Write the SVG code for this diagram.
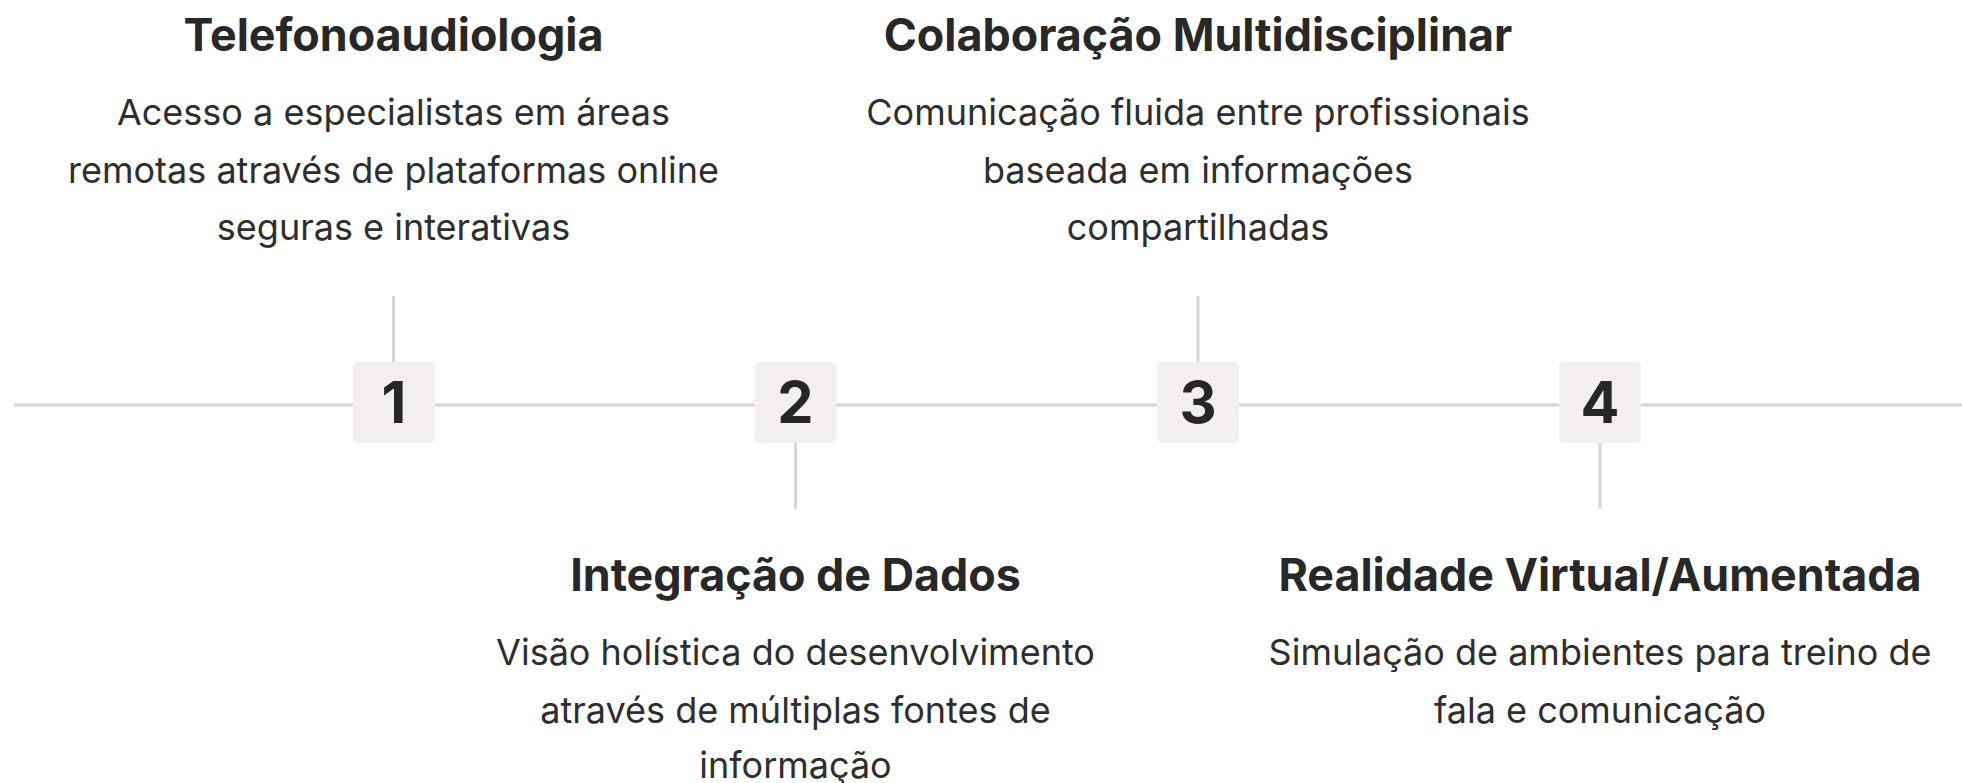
<svg xmlns="http://www.w3.org/2000/svg" width="1962" height="783" viewBox="0 0 1962 783">
<style>
.title{font-family:Inter,"Liberation Sans",sans-serif;font-weight:700;font-size:44.8px;fill:#282828;text-anchor:middle}
.desc{font-family:Inter,"Liberation Sans",sans-serif;font-weight:400;font-size:36px;fill:#2e2e2e;text-anchor:middle}
.num{font-family:Inter,"Liberation Sans",sans-serif;font-weight:700;font-size:57.6px;fill:#262626;text-anchor:middle}
.box{fill:#f2efee}
.ln{stroke:#d8d5d3;stroke-width:3.5;fill:none}
.tick{stroke:#d8d5d3;stroke-width:3;fill:none}
</style>
<rect width="1962" height="783" fill="#ffffff"/>
<g id="connectors">
<line class="ln" x1="14" y1="405" x2="1962" y2="405"/>
<line class="tick" x1="393.5" y1="296" x2="393.5" y2="362"/>
<line class="tick" x1="795.5" y1="443" x2="795.5" y2="509"/>
<line class="tick" x1="1198" y1="296" x2="1198" y2="362"/>
<line class="tick" x1="1600" y1="443" x2="1600" y2="509"/>
</g>
<g id="node1">
<rect class="box" x="353" y="362" width="82" height="81" rx="5"/>
<text class="num" x="394" y="423">1</text>
<text class="title" x="393.5" y="51">Telefonoaudiologia</text>
<text class="desc" x="393.5" y="125">Acesso a especialistas em áreas</text>
<text class="desc" x="393.5" y="182.5">remotas através de plataformas online</text>
<text class="desc" x="393.5" y="240">seguras e interativas</text>
</g>
<g id="node2">
<rect class="box" x="754.5" y="362" width="82" height="81" rx="5"/>
<text class="num" x="795.5" y="423">2</text>
<text class="title" x="795.5" y="591">Integração de Dados</text>
<text class="desc" x="795.5" y="665">Visão holística do desenvolvimento</text>
<text class="desc" x="795.5" y="722.5">através de múltiplas fontes de</text>
<text class="desc" x="795.5" y="778">informação</text>
</g>
<g id="node3">
<rect class="box" x="1157" y="362" width="82" height="81" rx="5"/>
<text class="num" x="1198" y="423">3</text>
<text class="title" x="1198" y="51">Colaboração Multidisciplinar</text>
<text class="desc" x="1198" y="125">Comunicação fluida entre profissionais</text>
<text class="desc" x="1198" y="182.5">baseada em informações</text>
<text class="desc" x="1198" y="240">compartilhadas</text>
</g>
<g id="node4">
<rect class="box" x="1559" y="362" width="82" height="81" rx="5"/>
<text class="num" x="1600" y="423">4</text>
<text class="title" x="1600" y="591">Realidade Virtual/Aumentada</text>
<text class="desc" x="1600" y="665">Simulação de ambientes para treino de</text>
<text class="desc" x="1600" y="722.5">fala e comunicação</text>
</g>
</svg>
